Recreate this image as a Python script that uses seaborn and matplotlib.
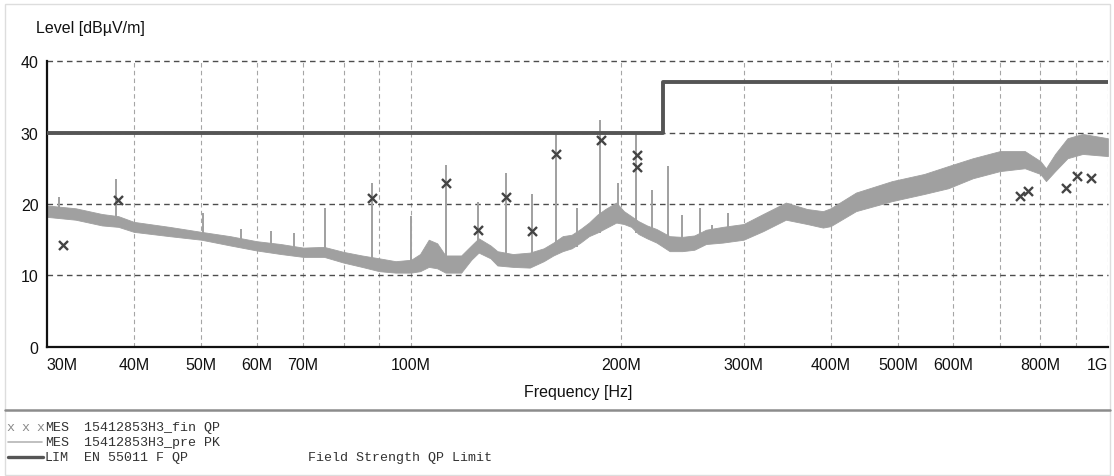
import numpy as np
import pandas as pd
import matplotlib
matplotlib.use("Agg")
import matplotlib.pyplot as plt
import seaborn as sns
from matplotlib.ticker import FixedLocator, FixedFormatter, NullLocator
from matplotlib.patches import Rectangle
from matplotlib.lines import Line2D

# pre-scan PK trace: noise floor band (MHz, dBuV/m)
floor_mhz = [30, 33, 36, 38, 40, 45, 50, 55, 60, 65, 70, 75, 80, 85, 90, 95, 100,
             103, 106, 109, 112, 118, 122, 125, 130, 133, 140, 148, 155, 160, 165,
             170, 175, 180, 185, 190, 197, 202, 207, 212, 218, 225, 235, 245, 255,
             265, 280, 300, 320, 345, 370, 390, 400, 435, 490, 545, 590, 640, 700,
             760, 800, 815, 840, 875, 920, 1000]
floor_lo = [18.2, 17.8, 17.0, 16.8, 16.1, 15.5, 15.0, 14.2, 13.5, 13.0, 12.6, 12.6,
            11.8, 11.2, 10.6, 10.4, 10.4, 10.6, 11.2, 11.0, 10.4, 10.4, 12.2, 13.2,
            12.4, 11.4, 11.2, 11.1, 12.0, 12.8, 13.4, 13.8, 14.6, 15.5, 16.0, 16.6,
            17.4, 17.2, 16.8, 15.8, 15.2, 14.6, 13.4, 13.4, 13.6, 14.4, 14.6, 15.0,
            16.2, 17.8, 17.2, 16.7, 16.9, 19.0, 20.4, 21.4, 22.2, 23.6, 24.6, 25.0,
            24.2, 23.2, 24.6, 26.4, 27.0, 26.7]
floor_hi = [19.8, 19.4, 18.6, 18.3, 17.5, 16.8, 16.1, 15.5, 14.8, 14.4, 13.9, 14.0,
            13.3, 12.8, 12.4, 12.0, 12.2, 13.0, 15.0, 14.5, 12.8, 12.8, 14.2, 15.2,
            14.2, 13.4, 13.0, 13.2, 13.8, 14.6, 15.5, 15.7, 16.5, 17.4, 18.5, 19.3,
            20.2, 19.0, 18.3, 17.6, 17.0, 16.5, 15.5, 15.4, 15.6, 16.4, 16.8, 17.2,
            18.6, 20.2, 19.3, 19.0, 19.4, 21.6, 23.2, 24.2, 25.3, 26.4, 27.4, 27.4,
            26.0, 25.0, 27.0, 29.2, 29.8, 29.2]

# narrow peaks in the PK trace
spike_mhz = [31.2, 37.7, 50.2, 57, 63, 68, 75.2, 87.8, 100, 112.3, 124.8, 137, 149,
             161.5, 173, 186.5, 198, 210.5, 222, 234, 245, 260, 270, 285]
spike_base = [19.0, 18.0, 15.8, 14.8, 14.2, 13.6, 13.5, 12.5, 11.5, 11.5, 13.5, 12.4,
              12.0, 13.0, 14.0, 16.0, 18.0, 16.0, 15.0, 14.0, 14.0, 14.5, 15.0, 15.5]
spike_top = [21.0, 23.5, 18.8, 16.5, 16.2, 16.0, 19.4, 23.0, 18.3, 25.4, 20.3, 24.3,
             21.4, 29.9, 19.5, 31.8, 23.0, 29.9, 22.0, 25.3, 18.4, 19.5, 17.0, 18.8]

# final QP measurements
qp_mhz = [31.6, 37.9, 87.8, 112.3, 124.8, 137, 149, 161.5, 187, 211, 211,
          747, 767, 870, 903, 945]
qp_db = [14.2, 20.6, 20.8, 22.9, 16.4, 21.0, 16.2, 27.0, 28.9, 26.9, 25.2,
         21.1, 21.8, 22.2, 23.9, 23.6]

# EN 55011 class limit
lim_mhz = [30, 230, 230, 1000]
lim_db = [30, 30, 37, 37]

grid_mhz = [40, 50, 60, 70, 80, 90, 100, 200, 300, 400, 500, 600, 700, 800, 900, 1000]
tick_mhz = [30] + grid_mhz
tick_lbl = ['30M', '40M', '50M', '60M', '70M', '', '', '100M', '200M', '300M',
            '400M', '500M', '600M', '', '800M', '', '1G']

sns.set_style("white")
plt.rcParams['font.family'] = ['Liberation Sans', 'DejaVu Sans']

fig = plt.figure(figsize=(11.14, 4.77), dpi=100)
ax = fig.add_axes([0.042, 0.2705, 0.9525, 0.5995])

trace_col = '#a0a0a0'
ax.fill_between(floor_mhz, floor_lo, floor_hi, color=trace_col, lw=0.6,
                edgecolor=trace_col, zorder=2)
ax.vlines(spike_mhz, spike_base, spike_top, color=trace_col, lw=1.4, zorder=2)

lim_df = pd.DataFrame({'f': lim_mhz, 'lvl': lim_db})
sns.lineplot(data=lim_df, x='f', y='lvl', ax=ax, color='#555555', lw=2.8,
             sort=False, estimator=None, zorder=4)

qp_df = pd.DataFrame({'f': qp_mhz, 'lvl': qp_db})
sns.scatterplot(data=qp_df, x='f', y='lvl', ax=ax, marker='x', color='#444444',
                s=42, linewidth=1.7, zorder=5)

ax.set_xscale('log')
ax.set_xlim(30, 1000)
ax.set_ylim(0, 40)
ax.xaxis.set_major_locator(FixedLocator(tick_mhz))
ax.xaxis.set_major_formatter(FixedFormatter(tick_lbl))
ax.xaxis.set_minor_locator(NullLocator())
ax.set_yticks([0, 10, 20, 30, 40])
ax.set_xlabel('')
ax.set_ylabel('')

for v in grid_mhz:
    ax.axvline(v, color='#a5a5a5', lw=0.8, ls=(0, (4, 3)), zorder=1)
for h in [10, 20, 30, 40]:
    ax.axhline(h, color='#4d4d4d', lw=1.0, ls=(0, (4, 3)), zorder=1, clip_on=False)

for s in ['top', 'right']:
    ax.spines[s].set_visible(False)
for s in ['left', 'bottom']:
    ax.spines[s].set_color('#111111')
    ax.spines[s].set_linewidth(1.6)

ax.tick_params(axis='both', length=0, labelsize=11.5, colors='#111111')
ax.tick_params(axis='x', pad=7)
ax.tick_params(axis='y', pad=6)
xl = ax.get_xticklabels()
xl[0].set_ha('left')
xl[-1].set_ha('right')

fig.text(36 / 1114, 1 - 28 / 477, 'Level [dB\u00b5V/m]', fontsize=11.5,
         ha='left', va='center', color='#111111')
fig.text(578 / 1114, 1 - 393 / 477, 'Frequency [Hz]', fontsize=11.5,
         ha='center', va='center', color='#111111')

# outer frame and legend separator
fig.patches.append(Rectangle((5 / 1114, 1 - 476 / 477), 1105 / 1114, 471 / 477,
                             transform=fig.transFigure, fill=False,
                             edgecolor='#dddddd', lw=1.0))
fig.lines.append(Line2D([5 / 1114, 1110 / 1114], [1 - 411 / 477] * 2,
                        transform=fig.transFigure, color='#8c8c8c', lw=1.8))

mono = dict(family=['Liberation Mono', 'DejaVu Sans Mono'], fontsize=9.6,
            va='center', color='#333333')
rows_y = [428, 443, 458]
for xm in [10, 25, 40]:
    fig.text(xm / 1114, 1 - rows_y[0] / 477, 'x', ha='center',
             **{**mono, 'color': '#8a8a8a'})
fig.text(45 / 1114, 1 - rows_y[0] / 477, 'MES', ha='left', **mono)
fig.text(84 / 1114, 1 - rows_y[0] / 477, '15412853H3_fin QP', ha='left', **mono)
fig.lines.append(Line2D([8 / 1114, 42 / 1114], [1 - rows_y[1] / 477] * 2,
                        transform=fig.transFigure, color='#b5b5b5', lw=1.2))
fig.text(45 / 1114, 1 - rows_y[1] / 477, 'MES', ha='left', **mono)
fig.text(84 / 1114, 1 - rows_y[1] / 477, '15412853H3_pre PK', ha='left', **mono)
fig.lines.append(Line2D([8 / 1114, 43 / 1114], [1 - rows_y[2] / 477] * 2,
                        transform=fig.transFigure, color='#555555', lw=2.4))
fig.text(45 / 1114, 1 - rows_y[2] / 477, 'LIM', ha='left', **mono)
fig.text(84 / 1114, 1 - rows_y[2] / 477, 'EN 55011 F QP', ha='left', **mono)
fig.text(308 / 1114, 1 - rows_y[2] / 477, 'Field Strength QP Limit', ha='left', **mono)

fig.savefig('out.png', dpi=100)
